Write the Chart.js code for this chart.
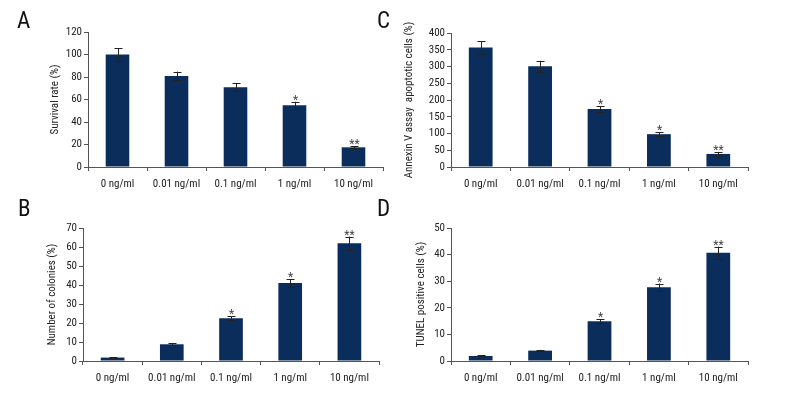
<!DOCTYPE html>
<html>
<head>
<meta charset="utf-8">
<script src="https://cdn.jsdelivr.net/npm/chart.js@4"></script>
<style>
  body { margin: 0; background: #fff; }
  .wrap { position: relative; width: 792px; height: 408px; }
  .panel { position: absolute; width: 396px; height: 204px; }
  .letter { position: absolute; font-family: "Roboto Condensed", sans-serif; font-size: 23px; color: #111; }
</style>
</head>
<body>
<div class="wrap">
  <div class="panel" style="left:0;top:0"><canvas id="chartA"></canvas></div>
  <div class="panel" style="left:396px;top:0"><canvas id="chartC"></canvas></div>
  <div class="panel" style="left:0;top:204px"><canvas id="chartB"></canvas></div>
  <div class="panel" style="left:396px;top:204px"><canvas id="chartD"></canvas></div>
  <div class="letter" style="left:17px;top:7px">A</div>
  <div class="letter" style="left:377px;top:7px">C</div>
  <div class="letter" style="left:18px;top:195px">B</div>
  <div class="letter" style="left:377px;top:195px">D</div>
</div>
<script>
const doses = ["0 ng/ml", "0.01 ng/ml", "0.1 ng/ml", "1 ng/ml", "10 ng/ml"];

const survival = [100, 81, 71, 55, 17.5];
const survivalErr = [5.5, 3.8, 3.3, 3, 1];
const survivalStars = ["", "", "", "*", "**"];

const annexin = [357, 301, 173, 98, 39];
const annexinErr = [19, 16, 9, 6, 6];
const annexinStars = ["", "", "*", "*", "**"];

const colonies = [1.8, 8.8, 22.5, 41, 62];
const coloniesErr = [0.3, 0.5, 1, 2, 3.5];
const coloniesStars = ["", "", "*", "*", "**"];

const tunel = [1.9, 3.9, 14.9, 27.7, 40.7];
const tunelErr = [0.2, 0.3, 0.8, 1.4, 2.3];
const tunelStars = ["", "", "*", "*", "**"];

const barColor = "#0b2d5b";
const axisColor = "#555";
const fontFamily = '"Roboto Condensed", sans-serif';

const errorBars = {
  id: "errorBars",
  afterDatasetsDraw(chart, args, opts) {
    const ctx = chart.ctx;
    const meta = chart.getDatasetMeta(0);
    const y = chart.scales.y;
    const data = chart.data.datasets[0].data;
    ctx.save();
    ctx.strokeStyle = "#222";
    ctx.lineWidth = 1;
    meta.data.forEach(function (bar, i) {
      const x = Math.round(bar.x) + 0.5;
      const top = y.getPixelForValue(data[i] + opts.err[i]);
      const bottom = y.getPixelForValue(data[i] - opts.err[i]);
      ctx.beginPath();
      ctx.moveTo(x, top);
      ctx.lineTo(x, bottom);
      ctx.moveTo(x - 4, Math.round(top) + 0.5);
      ctx.lineTo(x + 4, Math.round(top) + 0.5);
      ctx.moveTo(x - 4, Math.round(bottom) + 0.5);
      ctx.lineTo(x + 4, Math.round(bottom) + 0.5);
      ctx.stroke();
      if (opts.stars[i]) {
        ctx.fillStyle = "#444";
        ctx.font = "12px " + fontFamily;
        ctx.textAlign = "center";
        ctx.textBaseline = "bottom";
        ctx.fillText(opts.stars[i], x, top + 5);
      }
    });
    ctx.restore();
  },
};

function makeChart(id, values, err, stars, max, step, title, box) {
  const ctx = document.getElementById(id).getContext("2d");
  return new Chart(ctx, {
    type: "bar",
    data: {
      labels: doses,
      datasets: [
        {
          data: values,
          backgroundColor: barColor,
          barPercentage: 0.4,
          categoryPercentage: 1,
        },
      ],
    },
    options: {
      responsive: true,
      maintainAspectRatio: false,
      animation: false,
      layout: { padding: { top: box.top, right: box.right, left: 0, bottom: 0 } },
      plugins: {
        legend: { display: false },
        tooltip: { enabled: false },
        errorBars: { err: err, stars: stars },
      },
      scales: {
        x: {
          afterFit: function (scale) { scale.height = box.xh; },
          grid: { drawOnChartArea: false, tickLength: 4, color: axisColor, offset: true },
          border: { color: axisColor },
          ticks: { color: "#222", padding: 7, font: { family: fontFamily, size: 11 }, maxRotation: 0 },
        },
        y: {
          min: 0,
          max: max,
          afterFit: function (scale) { scale.width = box.yw; },
          grid: { drawOnChartArea: false, tickLength: 4, color: axisColor },
          border: { color: axisColor },
          ticks: { stepSize: step, color: "#222", padding: 2, font: { family: fontFamily, size: 11 } },
          title: {
            display: true,
            text: title,
            color: "#222",
            font: { family: fontFamily, size: 11 },
            padding: { top: box.tx - 6.6, bottom: 0 },
          },
        },
      },
    },
    plugins: [errorBars],
  });
}

const chartA = makeChart("chartA", survival, survivalErr, survivalStars, 120, 20,
  "Survival rate (%)", { top: 32, right: 13, xh: 37, yw: 88, tx: 55 });
const chartC = makeChart("chartC", annexin, annexinErr, annexinStars, 400, 50,
  "Annexin V assay  apoptotic cells (%)", { top: 33, right: 44, xh: 37, yw: 55, tx: 13 });
const chartB = makeChart("chartB", colonies, coloniesErr, coloniesStars, 70, 10,
  "Number of colonies (%)", { top: 24, right: 17, xh: 47, yw: 83, tx: 52 });
const chartD = makeChart("chartD", tunel, tunelErr, tunelStars, 50, 10,
  "TUNEL positive cells (%)", { top: 24, right: 44, xh: 47, yw: 55, tx: 25 });
</script>
</body>
</html>
